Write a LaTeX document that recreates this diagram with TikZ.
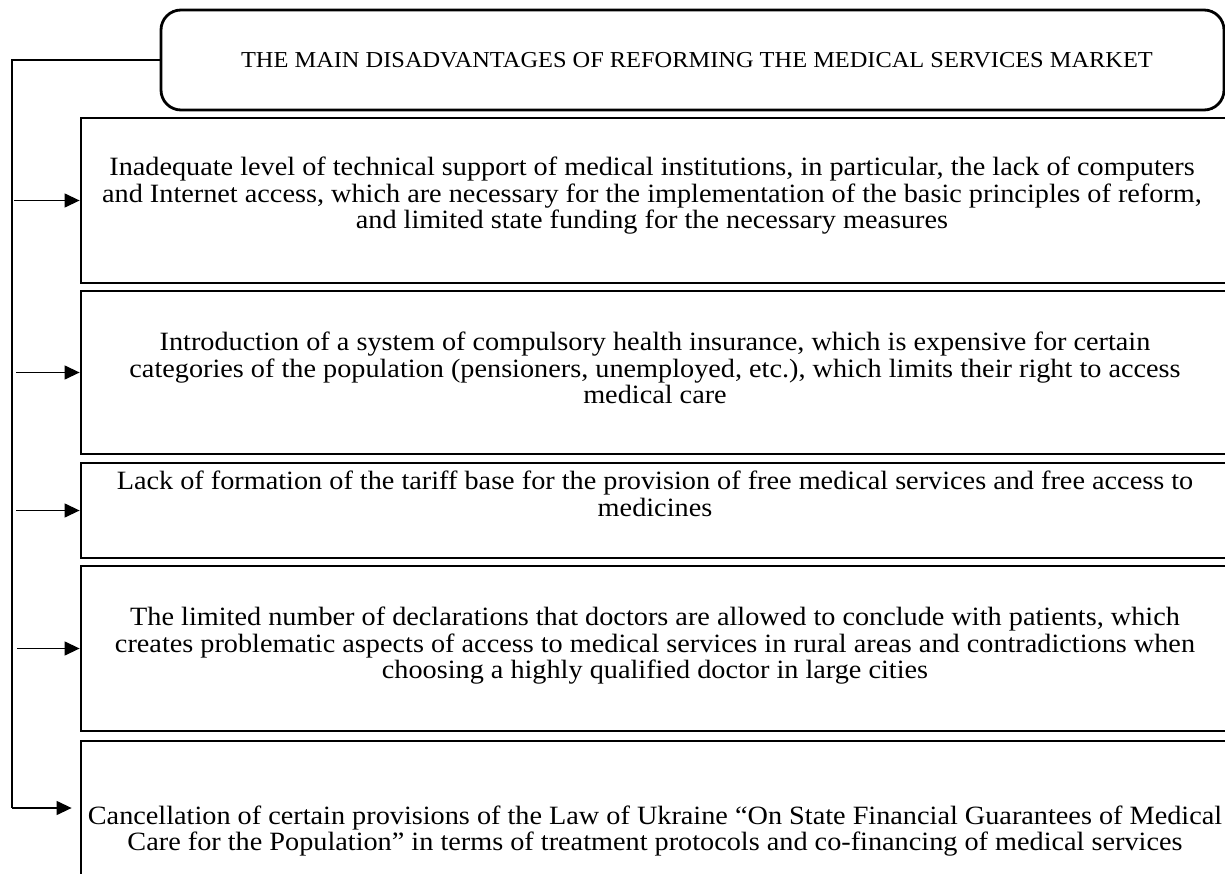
\documentclass[tikz,border=0pt]{standalone}
\usepackage{fontspec}
\setmainfont{Liberation Serif}[FakeStretch=1.07]
\usetikzlibrary{arrows.meta}
\begin{document}
\begin{tikzpicture}[x=1pt,y=-1pt,
  boxstyle/.style={draw, line width=2.8pt, rectangle, inner sep=0pt},
  txt/.style={align=center, font=\fontsize{26.4}{26.5}\selectfont, inner sep=0pt},
  conn/.style={line width=1.3pt},
  arr/.style={conn, -{Triangle[length=15pt,width=14pt]}}]
\useasboundingbox (0,0) rectangle (1225,874);
\clip (0,0) rectangle (1225,874);
% title
\node[boxstyle, rounded corners=20pt, minimum width=1063pt, minimum height=100pt, align=center, font=\fontsize{22.8}{26.5}\selectfont] (title) at (692.5,60) {\hspace*{9pt}THE MAIN DISADVANTAGES OF REFORMING THE MEDICAL SERVICES MARKET};
% boxes
\node[boxstyle, minimum width=1148pt, minimum height=165pt] (b1) at (655,200.5) {};
\node[boxstyle, minimum width=1148pt, minimum height=163pt] (b2) at (655,372.5) {};
\node[boxstyle, minimum width=1148pt, minimum height=95pt] (b3) at (655,510.5) {};
\node[boxstyle, minimum width=1148pt, minimum height=165pt] (b4) at (655,648.5) {};
\node[boxstyle, minimum width=1148pt, minimum height=134pt] (b5) at (655,808) {};
% texts
\node[txt] (t1) at (652,196) {Inadequate level of technical support of medical institutions, in particular, the lack of computers\\and Internet access, which are necessary for the implementation of the basic principles of reform,\\and limited state funding for the necessary measures};
\node[txt] (t2) at (655,368) {Introduction of a system of compulsory health insurance, which is expensive for certain\\categories of the population (pensioners, unemployed, etc.), which limits their right to access\\medical care};
\node[txt] (t3) at (655,494) {Lack of formation of the tariff base for the provision of free medical services and free access to\\medicines};
\node[txt] (t4) at (655,646) {The limited number of declarations that doctors are allowed to conclude with patients, which\\creates problematic aspects of access to medical services in rural areas and contradictions when\\choosing a highly qualified doctor in large cities};
\node[txt] (t5) at (655,831) {Cancellation of certain provisions of the Law of Ukraine “On State Financial Guarantees of Medical\\Care for the Population” in terms of treatment protocols and co-financing of medical services};
% connectors
\coordinate (top) at (12,60);
\coordinate (bot) at (12,808);
\draw[conn] (title.west) -- (top) -- (bot);
\draw[arr, shorten >=8pt] (bot) -- (b5.west);
\draw[arr, shorten <=2pt] (b1.west -| top) -- (b1.west);
\draw[arr, shorten <=4pt] (b2.west -| top) -- (b2.west);
\draw[arr, shorten <=4pt] (b3.west -| top) -- (b3.west);
\draw[arr, shorten <=5pt] (b4.west -| top) -- (b4.west);
\end{tikzpicture}
\end{document}
